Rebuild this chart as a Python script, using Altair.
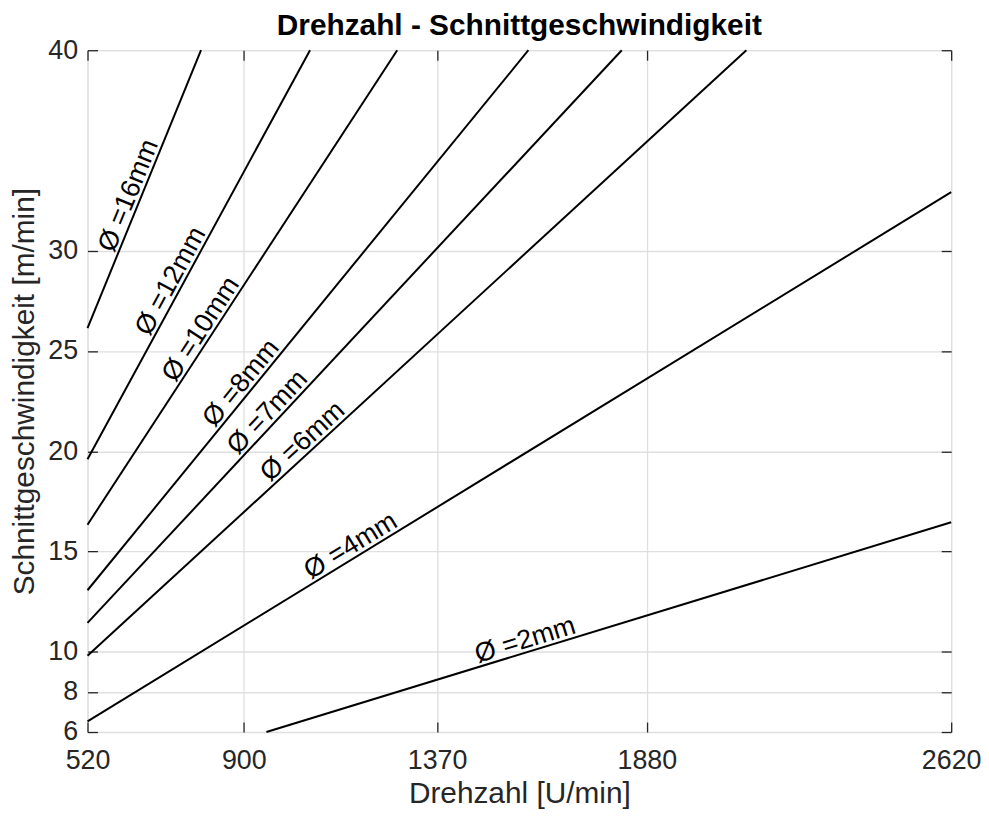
import math
import altair as alt
import pandas as pd

# Data
diameters = [16, 12, 10, 8, 7, 6, 4, 2]
n_start = [520, 520, 520, 520, 520, 520, 520, 955]
v_start = [26.14, 19.60, 16.34, 13.07, 11.44, 9.80, 6.53, 6.0]
n_end = [796, 1061, 1273, 1592, 1819, 2122, 2620, 2620]
v_end = [40, 40, 40, 40, 40, 40, 32.92, 16.46]
label_n = [647, 748, 820, 916, 979, 1063, 1175, 1593]
label_v = [32.52, 28.20, 25.76, 23.02, 21.53, 20.04, 14.77, 10.01]
x_ticks = [520, 900, 1370, 1880, 2620]
y_ticks = [6, 8, 10, 15, 20, 25, 30, 40]
title_text = ["Drehzahl - Schnittgeschwindigkeit"]

X_DOM = [520, 2620]
Y_DOM = [6, 40]
W, H = 869, 686
FONT = "Liberation Sans"
AXC = "#262626"
TICK_FS = 27
TITLE_FS = 30

rows = []
for d, n0, v0, n1, v1 in zip(diameters, n_start, v_start, n_end, v_end):
    rows.append({"d": d, "n": n0, "v": v0, "o": 0})
    rows.append({"d": d, "n": n1, "v": v1, "o": 1})
lines_df = pd.DataFrame(rows)

lab_rows = []
for d, n0, v0, n1, v1, ln, lv in zip(diameters, n_start, v_start, n_end, v_end, label_n, label_v):
    px = (n1 - n0) / (X_DOM[1] - X_DOM[0]) * W
    py = (v1 - v0) / (Y_DOM[1] - Y_DOM[0]) * H
    ang = 360 - math.degrees(math.atan2(py, px))
    lab_rows.append({"d": d, "n": ln, "v": lv, "ang": ang, "label": f"Ø ={d}mm"})
labels_df = pd.DataFrame(lab_rows)

xs = alt.Scale(domain=X_DOM, nice=False, zero=False)
ys = alt.Scale(domain=Y_DOM, nice=False, zero=False)

x_bottom = alt.Axis(
    values=x_ticks, format="d", orient="bottom", offset=-10, tickSize=10, grid=True,
    domain=False, labelPadding=16, labelFontSize=TICK_FS, labelFont=FONT,
    labelColor=AXC, tickColor=AXC, tickWidth=1.3, gridColor="#dfdfdf",
    gridWidth=1.3, title="Drehzahl [U/min]", titleFont=FONT, titleFontSize=TITLE_FS,
    titleFontWeight="normal", titleColor=AXC, titleBaseline="alphabetic",
    titleY=81, labelFlush=False, labelOverlap=False,
)
y_left = alt.Axis(
    values=y_ticks, format="d", orient="left", offset=-10, tickSize=10, grid=True,
    domain=False, labelPadding=10, labelFontSize=TICK_FS, labelFont=FONT,
    labelColor=AXC, tickColor=AXC, tickWidth=1.3, gridColor="#dfdfdf",
    gridWidth=1.3, title="Schnittgeschwindigkeit [m/min]", titleFont=FONT,
    titleFontSize=TITLE_FS, titleFontWeight="normal", titleColor=AXC,
    titleBaseline="alphabetic", titleX=-64, titleAlign="center",
    labelFlush=False, labelOverlap=False,
)
x_top = alt.Axis(
    values=x_ticks, orient="top", offset=-10, tickSize=10, grid=False,
    domain=False, labels=False, tickColor=AXC, tickWidth=1.3, title="",
)
y_right = alt.Axis(
    values=y_ticks, orient="right", offset=-10, tickSize=10, grid=False,
    domain=False, labels=False, tickColor=AXC, tickWidth=1.3, title="",
)

lines = alt.Chart(lines_df).mark_line(color="black", strokeWidth=2).encode(
    x=alt.X("n:Q", scale=xs, axis=x_bottom),
    y=alt.Y("v:Q", scale=ys, axis=y_left),
    detail="d:N",
    order="o:Q",
)

texts = alt.Chart(labels_df).mark_text(
    align="center", baseline="alphabetic", dy=-4, fontSize=27, font=FONT,
    color="black",
).encode(
    x=alt.X("n:Q", scale=xs, axis=x_top),
    y=alt.Y("v:Q", scale=ys, axis=y_right),
    angle=alt.Angle("ang:Q", scale=None),
    text="label:N",
)

title = alt.Chart(pd.DataFrame({"t": title_text})).mark_text(
    align="center", baseline="alphabetic", fontSize=TITLE_FS, fontWeight="bold",
    font=FONT, color="black",
).encode(
    x=alt.value(W / 2),
    y=alt.value(-15),
    text="t:N",
)

chart = alt.layer(lines, texts, title).resolve_axis(
    x="independent", y="independent"
).properties(
    width=W,
    height=H,
    autosize=alt.AutoSizeParams(type="none"),
    padding={"left": 80, "top": 40, "right": 30, "bottom": 80},
).configure_view(stroke=AXC, strokeWidth=1.3).configure(background="white")

chart.save("out.html", embed_options={"renderer": "svg", "actions": False})
